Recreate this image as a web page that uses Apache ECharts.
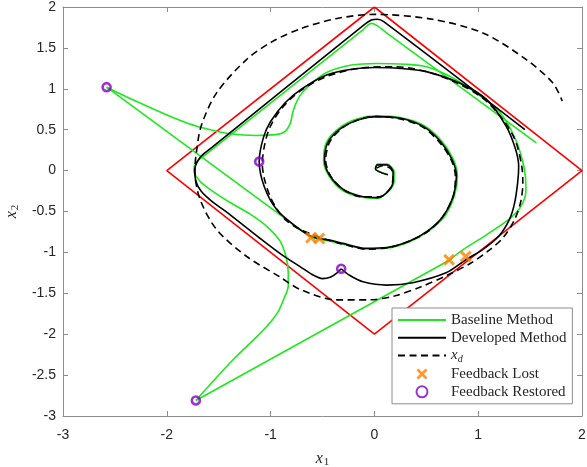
<!DOCTYPE html>
<html><head><meta charset="utf-8">
<script src="https://cdn.jsdelivr.net/npm/echarts@6/dist/echarts.min.js"></script>
<style>html,body{margin:0;padding:0;background:#fff;overflow:hidden}#c{width:587px;height:467px}</style>
</head><body><div id="c"></div>
<script>
// ---- axis ranges / ticks ----
const xTicks = [-3, -2, -1, 0, 1, 2];
const yTicks = [-3, -2.5, -2, -1.5, -1, -0.5, 0, 0.5, 1, 1.5, 2];

// ---- constraint set (red diamond) ----
const diamond = [[0,2],[2,0],[0,-2],[-2,0],[0,2]];

// ---- Baseline Method (green), pieces ----
const baseSpiral = [[0.13,-0.05],[0.01,0.03],[0.03,0.08],[0.12,0.08],[0.19,-0.02],[0.19,-0.13],[0.14,-0.25],[0.03,-0.34],[-0.14,-0.32],[-0.31,-0.24],[-0.44,-0.06],[-0.49,0.13],[-0.46,0.35],[-0.34,0.52],[-0.17,0.63],[0.02,0.67],[0.25,0.65],[0.48,0.55],[0.65,0.36],[0.76,0.14],[0.80,-0.07],[0.77,-0.31],[0.67,-0.57],[0.51,-0.75],[0.34,-0.87],[0.12,-0.95],[-0.08,-0.96],[-0.30,-0.90],[-0.44,-0.86],[-0.53,-0.84],[-0.61,-0.82]];
const baseDrift1 = [[-0.61,-0.82],[-2.58,1.02]];
const baseRecover1 = [[-2.58,1.02],[-2.30,0.85],[-2.07,0.72],[-1.80,0.58],[-1.55,0.49],[-1.39,0.45],[-1.15,0.43],[-0.95,0.44],[-0.86,0.48],[-0.81,0.58],[-0.78,0.74],[-0.72,0.91],[-0.62,1.05],[-0.46,1.20],[-0.22,1.29],[0.02,1.31],[0.30,1.30],[0.50,1.27],[0.73,1.15],[1.00,0.93],[1.21,0.71],[1.36,0.38],[1.44,0.05],[1.46,-0.20],[1.45,-0.33],[1.40,-0.46],[1.33,-0.56],[1.25,-0.64],[1.05,-0.81],[0.85,-0.97],[0.73,-1.09]];
const baseDrift2 = [[0.73,-1.09],[-1.72,-2.81]];
const baseRecover2 = [[-1.72,-2.81],[-1.55,-2.57],[-1.36,-2.31],[-1.19,-2.10],[-1.04,-1.91],[-0.93,-1.73],[-0.87,-1.56],[-0.83,-1.41],[-0.83,-1.25],[-0.85,-1.06],[-0.91,-0.86],[-1.03,-0.69],[-1.20,-0.53],[-1.39,-0.39],[-1.55,-0.26],[-1.68,-0.13],[-1.74,0.00],[-1.71,0.11],[-1.62,0.20],[-0.12,1.71],[-0.03,1.80],[0.03,1.77],[0.12,1.68],[1.56,0.34]];

// ---- Developed Method (black), pieces ----
const devPart1 = [[0.13,-0.05],[0.01,0.02],[0.03,0.07],[0.12,0.07],[0.18,-0.02],[0.18,-0.12],[0.14,-0.24],[0.03,-0.33],[-0.14,-0.31],[-0.30,-0.23],[-0.43,-0.06],[-0.48,0.13],[-0.45,0.34],[-0.33,0.51],[-0.16,0.62],[0.02,0.66],[0.25,0.64],[0.47,0.54],[0.64,0.35],[0.75,0.13],[0.79,-0.07],[0.76,-0.31],[0.66,-0.56],[0.51,-0.74],[0.34,-0.86],[0.12,-0.94],[-0.08,-0.95],[-0.30,-0.89],[-0.43,-0.85],[-0.53,-0.83],[-0.63,-0.79],[-0.78,-0.66],[-0.94,-0.48],[-1.06,-0.20],[-1.11,0.11],[-1.07,0.40],[-1.00,0.60],[-0.86,0.83],[-0.70,1.00],[-0.46,1.17],[-0.22,1.24],[0.00,1.26],[0.25,1.25],[0.50,1.21],[0.82,1.07],[1.08,0.87],[1.27,0.54],[1.36,0.26],[1.39,0.05],[1.38,-0.15],[1.35,-0.40],[1.30,-0.60],[1.20,-0.80],[1.05,-0.96],[0.88,-1.09],[0.69,-1.25],[0.37,-1.37],[0.12,-1.40],[-0.11,-1.36],[-0.24,-1.28],[-0.32,-1.20]];
const devPart2 = [[-0.32,-1.20],[-0.36,-1.25],[-0.42,-1.30],[-0.50,-1.32],[-0.60,-1.27],[-0.72,-1.17],[-0.88,-1.04],[-1.10,-0.83],[-1.38,-0.55],[-1.58,-0.36],[-1.67,-0.25],[-1.72,-0.13],[-1.73,0.01],[-1.68,0.16],[-1.58,0.27],[-0.10,1.78],[-0.03,1.84],[0.03,1.85],[0.09,1.82],[1.45,0.50]];

// ---- desired trajectory x_d (dashed) ----
const desired = [[0.02,0.03],[0.08,0.06],[0.16,0.02],[0.18,-0.08],[0.15,-0.22],[0.05,-0.32],[-0.12,-0.32],[-0.29,-0.24],[-0.42,-0.07],[-0.47,0.13],[-0.43,0.35],[-0.32,0.51],[-0.16,0.62],[0.02,0.66],[0.25,0.63],[0.47,0.53],[0.63,0.34],[0.74,0.13],[0.78,-0.07],[0.76,-0.31],[0.66,-0.56],[0.52,-0.74],[0.34,-0.86],[0.14,-0.94],[-0.08,-0.96],[-0.30,-0.90],[-0.47,-0.84],[-0.62,-0.77],[-0.73,-0.71],[-0.85,-0.61],[-0.94,-0.47],[-1.01,-0.30],[-1.06,-0.10],[-1.08,0.08],[-1.06,0.30],[-1.01,0.52],[-0.90,0.75],[-0.72,0.97],[-0.46,1.15],[-0.15,1.25],[0.20,1.27],[0.50,1.21],[0.80,1.07],[1.05,0.88],[1.24,0.62],[1.36,0.36],[1.42,0.05],[1.43,-0.15],[1.41,-0.38],[1.35,-0.60],[1.24,-0.82],[1.11,-0.97],[0.93,-1.13],[0.70,-1.28],[0.45,-1.42],[0.20,-1.53],[-0.05,-1.58],[-0.37,-1.58],[-0.72,-1.45],[-0.91,-1.30],[-1.23,-1.05],[-1.52,-0.72],[-1.68,-0.35],[-1.73,0.00],[-1.72,0.17],[-1.67,0.54],[-1.52,0.95],[-1.23,1.36],[-0.98,1.58],[-0.70,1.74],[-0.36,1.86],[0.00,1.91],[0.56,1.85],[1.05,1.68],[1.46,1.36],[1.72,1.07],[1.81,0.85]];

// ---- events ----
const lostPoints = [[-0.61,-0.82],[-0.53,-0.83],[0.72,-1.09],[0.88,-1.05]];
const restoredPoints = [[-2.58,1.02],[-1.11,0.11],[-1.72,-2.81],[-0.32,-1.20]];

const GREEN = '#1ee81e', BLACK = '#000000', RED = '#ff0000', ORANGE = '#ff8000', PURPLE = '#8000cc';
const AXC = '#8c8c8c', TXT = '#262626';

function line(name, data, color, smooth, dashed) {
  return {
    type: 'line', name: name, data: data, symbol: 'none', smooth: smooth ? 0.3 : false,
    lineStyle: {color: color, width: 1.6, type: dashed ? [7, 4.5] : 'solid'},
    itemStyle: {color: color}, silent: true, animation: false
  };
}

const xCross = 'path://M0,1.8 L1.8,0 L5,3.2 L8.2,0 L10,1.8 L6.8,5 L10,8.2 L8.2,10 L5,6.8 L1.8,10 L0,8.2 L3.2,5 Z';

const chart = echarts.init(document.getElementById('c'), null, {renderer: 'canvas'});
const serif = 'Liberation Serif';
const richName = {
  i: {fontFamily: serif, fontStyle: 'italic', fontSize: 16, color: TXT},
  s: {fontFamily: serif, fontSize: 11, color: TXT, padding: [8, 0, 0, 1]}
};

const axisCommon = {
  type: 'value', splitLine: {show: false},
  axisLine: {show: true, onZero: false, lineStyle: {color: AXC, width: 1}},
  axisTick: {show: true, inside: true, length: 5, lineStyle: {color: AXC}}
};

const hideSym = {opacity: 0};

chart.setOption({
  animation: false,
  backgroundColor: '#fff',
  grid: {left: 63, right: 5, top: 7, bottom: 51, containLabel: false, outerBoundsMode: 'none'},
  xAxis: [
    Object.assign({}, axisCommon, {
      min: xTicks[0], max: xTicks[xTicks.length - 1], interval: xTicks[1] - xTicks[0], position: 'bottom',
      axisLabel: {color: TXT, fontSize: 14, fontFamily: 'Liberation Sans', margin: 12},
      name: '{i|x}{s|1}', nameLocation: 'middle', nameGap: 33, nameTextStyle: {rich: richName}
    }),
    Object.assign({}, axisCommon, {
      min: xTicks[0], max: xTicks[xTicks.length - 1], interval: xTicks[1] - xTicks[0], position: 'top',
      axisLabel: {show: false}
    })
  ],
  yAxis: [
    Object.assign({}, axisCommon, {
      min: yTicks[0], max: yTicks[yTicks.length - 1], interval: yTicks[1] - yTicks[0], position: 'left',
      axisLabel: {color: TXT, fontSize: 14, fontFamily: 'Liberation Sans', margin: 7},
      name: '{i|x}{s|2}', nameLocation: 'middle', nameGap: 38, nameTextStyle: {rich: richName}
    }),
    Object.assign({}, axisCommon, {
      min: yTicks[0], max: yTicks[yTicks.length - 1], interval: yTicks[1] - yTicks[0], position: 'right',
      axisLabel: {show: false}
    })
  ],
  legend: {
    orient: 'vertical', left: 392, top: 308,
    padding: [4.5, 6, 4.5, 5],
    backgroundColor: '#fff', borderColor: AXC, borderWidth: 1, borderRadius: 0,
    itemWidth: 48, itemHeight: 11, itemGap: 2.7,
    data: [
      {name: 'Baseline Method', itemStyle: hideSym},
      {name: 'Developed Method', itemStyle: hideSym},
      {name: 'x_d', itemStyle: hideSym},
      {name: 'Feedback Lost'},
      {name: 'Feedback Restored'}
    ],
    textStyle: {fontFamily: serif, fontSize: 15, lineHeight: 15, color: TXT,
      rich: {
        i: {fontFamily: serif, fontStyle: 'italic', fontSize: 15, color: TXT},
        s: {fontFamily: serif, fontStyle: 'italic', fontSize: 10, color: TXT, padding: [7, 0, 0, 0]}
      }},
    formatter: function (n) { return n === 'x_d' ? '{i|x}{s|d}' : n; },
    selectedMode: false
  },
  series: [
    Object.assign(line('', diamond, RED, false, false), {name: 'constraint'}),
    line('Baseline Method', baseSpiral, GREEN, true),
    line('Baseline Method', baseDrift1, GREEN, false),
    line('Baseline Method', baseRecover1, GREEN, true),
    line('Baseline Method', baseDrift2, GREEN, false),
    line('Baseline Method', baseRecover2, GREEN, true),
    line('Developed Method', devPart1, BLACK, true),
    line('Developed Method', devPart2, BLACK, true),
    line('x_d', desired, BLACK, true, true),
    {type: 'scatter', name: 'Feedback Lost', data: lostPoints, symbol: xCross, symbolSize: 12,
     itemStyle: {color: ORANGE}, silent: true, z: 5},
    {type: 'scatter', name: 'Feedback Restored', data: restoredPoints, symbol: 'circle', symbolSize: 8,
     itemStyle: {color: 'rgba(0,0,0,0)', borderColor: PURPLE, borderWidth: 2.6}, silent: true, z: 6}
  ]
});
</script>
</body></html>
